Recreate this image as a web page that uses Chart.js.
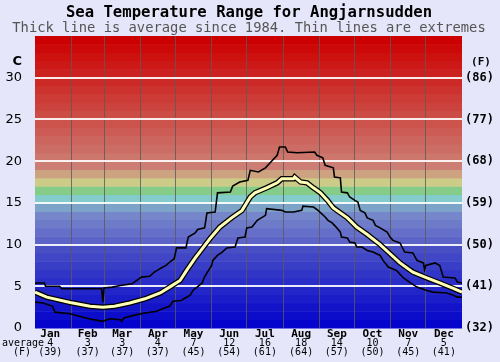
<!DOCTYPE html>
<html lang="en">
<head>
<meta charset="UTF-8">
<title>Sea Temperature Range for Angjarnsudden</title>
<style>
  body { margin: 0; background: #e6e6fa; overflow: hidden; }
  canvas { display: block; }
</style>
</head>
<body>
<canvas id="seaChart" width="500" height="362"></canvas>

<script src="https://cdn.jsdelivr.net/npm/chart.js"></script>
<script>
// month labels and monthly averages (C and F)
const months = ['Jan', 'Feb', 'Mar', 'Apr', 'May', 'Jun', 'Jul', 'Aug', 'Sep', 'Oct', 'Nov', 'Dec'];
const monthAvgC = [4, 3, 3, 4, 7, 12, 16, 18, 14, 10, 7, 5];
const monthAvgF = [39, 37, 37, 37, 45, 54, 61, 64, 57, 50, 45, 41];
const monthEdges = [31, 59, 90, 120, 151, 181, 212, 243, 273, 304, 334];
const monthMids = [13, 45, 74.5, 105, 135.5, 166, 196.5, 227.5, 258, 288.5, 319, 349.5];

// average line (day of year, C)
const avgDays = [0, 10, 30, 47, 58, 68, 81, 94, 107, 115, 124, 130, 137, 144, 150, 158, 168, 177, 184, 188,
  198, 207, 211, 221, 222, 227, 232.5, 238, 244, 250, 255, 267, 275, 284, 295, 303.5, 312, 323, 335, 346, 356.5, 365];
const avgTemps = [4.3, 3.7, 3.05, 2.6, 2.5, 2.6, 3.0, 3.5, 4.2, 4.9, 5.7, 7.0, 8.4, 9.7, 10.8, 12.1, 13.2, 14.1, 15.7, 16.2,
  16.8, 17.4, 17.9, 17.9, 18.1, 17.5, 17.4, 16.8, 16.2, 15.3, 14.4, 13.2, 12.1, 11.2, 10.0, 8.9, 7.8, 6.7, 6.0, 5.4, 4.8, 4.3];

// highest recorded
const maxDays = [0, 8, 9, 21, 23, 57, 58, 59, 66, 73, 83, 87, 91, 98, 102, 108, 112, 116, 119, 121, 129, 131, 137, 139,
  145, 147, 154, 156, 167, 169, 175, 182, 184, 191, 197, 201, 207, 209, 214, 216, 224, 239, 241, 246, 248, 255, 256,
  261, 262, 267, 269, 273.5, 276, 278, 282, 284, 289, 291, 295, 301, 303.5, 306, 312, 316, 323, 326.5, 332, 333,
  334, 342, 346, 349, 359, 361, 365];
const maxTemps = [5.4, 5.4, 5.0, 5.0, 4.7, 4.7, 3.1, 4.8, 4.9, 5.1, 5.3, 5.7, 6.1, 6.2, 6.7, 7.2, 7.5, 8.0, 8.3, 9.6, 9.6, 10.9, 11.4, 11.8,
  12.0, 13.8, 13.9, 16.2, 16.3, 17.0, 17.5, 17.7, 18.9, 18.7, 19.2, 19.8, 20.7, 21.7, 21.7, 21.1, 21.0, 21.1, 20.7, 20.4, 19.5, 19.2, 18.1,
  18.0, 16.3, 16.2, 15.7, 15.3, 15.1, 14.1, 13.8, 13.2, 12.9, 12.3, 12.0, 11.5, 10.9, 10.5, 10.2, 9.1, 9.0, 8.1, 7.8, 7.0,
  7.5, 7.8, 7.5, 6.1, 6.0, 5.5, 5.4];

// lowest recorded
const minDays = [0, 7, 15, 17, 30, 41, 50, 58, 64, 73, 74, 76, 87, 94, 104, 109, 115, 118, 125, 131, 133, 135, 138.5,
  143, 144.5, 147, 151, 152, 156, 160, 164, 171, 173.5, 179.5, 181, 185.5, 190, 197, 198, 211, 214, 221, 228, 229,
  238, 242, 248, 250.5, 254, 258, 261, 262, 267, 269, 273.5, 275, 279.5, 284, 289, 295, 297.5, 302, 309, 315, 321,
  326.5, 335, 340, 352, 356.5, 361, 365];
const minTemps = [3.1, 3.0, 2.6, 1.9, 1.7, 1.3, 1.0, 0.8, 1.1, 1.0, 0.8, 1.2, 1.6, 1.8, 2.0, 2.3, 2.6, 3.2, 3.3, 3.8, 4.0, 4.5, 4.9,
  5.4, 6.0, 6.6, 7.5, 8.1, 8.7, 9.1, 9.6, 9.7, 10.8, 10.9, 12.0, 12.1, 12.9, 13.5, 14.3, 14.1, 13.9, 13.9, 14.1, 14.6,
  14.5, 14.1, 13.3, 12.9, 12.6, 12.0, 11.5, 10.9, 10.8, 10.3, 10.2, 9.7, 9.7, 9.3, 9.1, 8.7, 8.1, 7.3, 6.9, 6.0, 5.4,
  4.9, 4.5, 4.3, 4.2, 4.0, 3.7, 3.7];

function toPoints(days, temps) {
  return days.map((d, i) => ({ x: d, y: temps[i] }));
}

// colour of the 1 degree band starting at v
function bandColor(v) {
  const mix = (a, b, t) => a.map((c, i) => Math.round(c + (b[i] - c) * t));
  let c;
  if (v < 10) c = mix([4, 4, 204], [72, 78, 196], v / 9);
  else if (v < 14) c = mix([92, 100, 200], [118, 134, 202], (v - 10) / 3);
  else if (v < 15) c = [124, 164, 200];
  else if (v < 16) c = [132, 204, 204];
  else if (v < 17) c = [132, 204, 136];
  else if (v < 18) c = [204, 204, 136];
  else if (v < 19) c = [204, 162, 128];
  else c = mix([204, 126, 116], [204, 0, 0], (v - 19) / 15);
  return 'rgb(' + c.join(',') + ')';
}

const bandsPlugin = {
  id: 'bands',
  beforeDraw(chart) {
    const { ctx, chartArea, scales } = chart;
    const y = scales.y;
    ctx.save();
    for (let v = 0; v < 35; v++) {
      const top = y.getPixelForValue(v + 1);
      const bottom = y.getPixelForValue(v);
      ctx.fillStyle = bandColor(v);
      ctx.fillRect(chartArea.left, top, chartArea.right - chartArea.left, bottom - top + 0.5);
    }
    ctx.restore();
  }
};

const textPlugin = {
  id: 'texts',
  afterDraw(chart) {
    const ctx = chart.ctx;
    const x = chart.scales.x;
    ctx.save();
    ctx.textBaseline = 'middle';
    ctx.textAlign = 'center';
    ctx.fillStyle = '#000';
    ctx.font = 'bold 15.6px "DejaVu Sans Mono"';
    ctx.fillText('Sea Temperature Range for Angjarnsudden', 249, 13);
    ctx.fillStyle = '#555';
    ctx.font = '13.8px "DejaVu Sans Mono"';
    ctx.fillText('Thick line is average since 1984. Thin lines are extremes', 249, 28);

    ctx.fillStyle = '#000';
    ctx.textAlign = 'right';
    ctx.font = 'bold 13px "DejaVu Sans"';
    ctx.fillText('C', 22, 62);
    ctx.textAlign = 'center';
    ctx.font = 'bold 11px "DejaVu Sans Mono"';
    ctx.fillText('(F)', 481, 62);

    ctx.font = '10px "DejaVu Sans Mono"';
    ctx.textAlign = 'left';
    ctx.fillText('average', 2, 343);
    ctx.textAlign = 'center';
    ctx.fillText('(F)', 22, 352);
    monthMids.forEach((d, i) => {
      const px = x.getPixelForValue(d);
      ctx.fillText(String(monthAvgC[i]), px, 343);
      ctx.fillText('(' + monthAvgF[i] + ')', px, 352);
    });
    ctx.restore();
  }
};

const lineStyle = { pointRadius: 0, tension: 0, fill: false };

new Chart(document.getElementById('seaChart'), {
  type: 'line',
  data: {
    datasets: [
      Object.assign({ label: 'Average', data: toPoints(avgDays, avgTemps), borderColor: '#ffffb8', borderWidth: 3, order: 0 }, lineStyle),
      Object.assign({ label: 'Average edge', data: toPoints(avgDays, avgTemps), borderColor: '#000', borderWidth: 5.5, order: 1 }, lineStyle),
      Object.assign({ label: 'Maximum', data: toPoints(maxDays, maxTemps), borderColor: '#000', borderWidth: 1.6, order: 2 }, lineStyle),
      Object.assign({ label: 'Minimum', data: toPoints(minDays, minTemps), borderColor: '#000', borderWidth: 1.6, order: 2 }, lineStyle)
    ]
  },
  options: {
    responsive: false,
    animation: false,
    layout: { padding: { top: 36, left: 0, right: 0, bottom: 0 } },
    plugins: { legend: { display: false }, tooltip: { enabled: false } },
    scales: {
      x: {
        type: 'linear',
        min: 0,
        max: 365,
        border: { display: false },
        afterBuildTicks(axis) {
          axis.ticks = monthEdges.map(v => ({ value: v })).concat(monthMids.map(v => ({ value: v })));
        },
        afterFit(axis) { axis.height = 34; },
        grid: {
          drawTicks: false,
          lineWidth: 1,
          color: ctx => (ctx.tick && monthEdges.includes(ctx.tick.value)) ? 'rgba(90,90,90,0.8)' : 'transparent'
        },
        ticks: {
          autoSkip: false,
          maxRotation: 0,
          padding: 0,
          color: '#000',
          font: { family: 'DejaVu Sans Mono', size: 11, weight: 'bold' },
          callback: v => {
            const i = monthMids.indexOf(v);
            return i >= 0 ? months[i] : '';
          }
        }
      },
      y: {
        min: 0,
        max: 35,
        position: 'left',
        border: { display: false },
        afterFit(axis) { axis.width = 35; },
        grid: {
          drawTicks: false,
          lineWidth: 2,
          color: ctx => (ctx.tick && ctx.tick.value > 0 && ctx.tick.value < 35) ? 'rgba(255,255,255,0.9)' : 'transparent'
        },
        ticks: {
          stepSize: 5,
          padding: 13,
          color: '#000',
          font: { family: 'DejaVu Sans', size: 13 },
          callback: v => v === 35 ? '' : v
        }
      },
      y2: {
        min: 0,
        max: 35,
        position: 'right',
        border: { display: false },
        afterFit(axis) { axis.width = 38; },
        grid: { display: false, drawTicks: false },
        ticks: {
          stepSize: 5,
          padding: 3,
          color: '#000',
          font: { family: 'DejaVu Sans Mono', size: 12, weight: 'bold' },
          callback: v => v === 35 ? '' : '(' + Math.round(v * 9 / 5 + 32) + ')'
        }
      }
    }
  },
  plugins: [bandsPlugin, textPlugin]
});
</script>
</body>
</html>
